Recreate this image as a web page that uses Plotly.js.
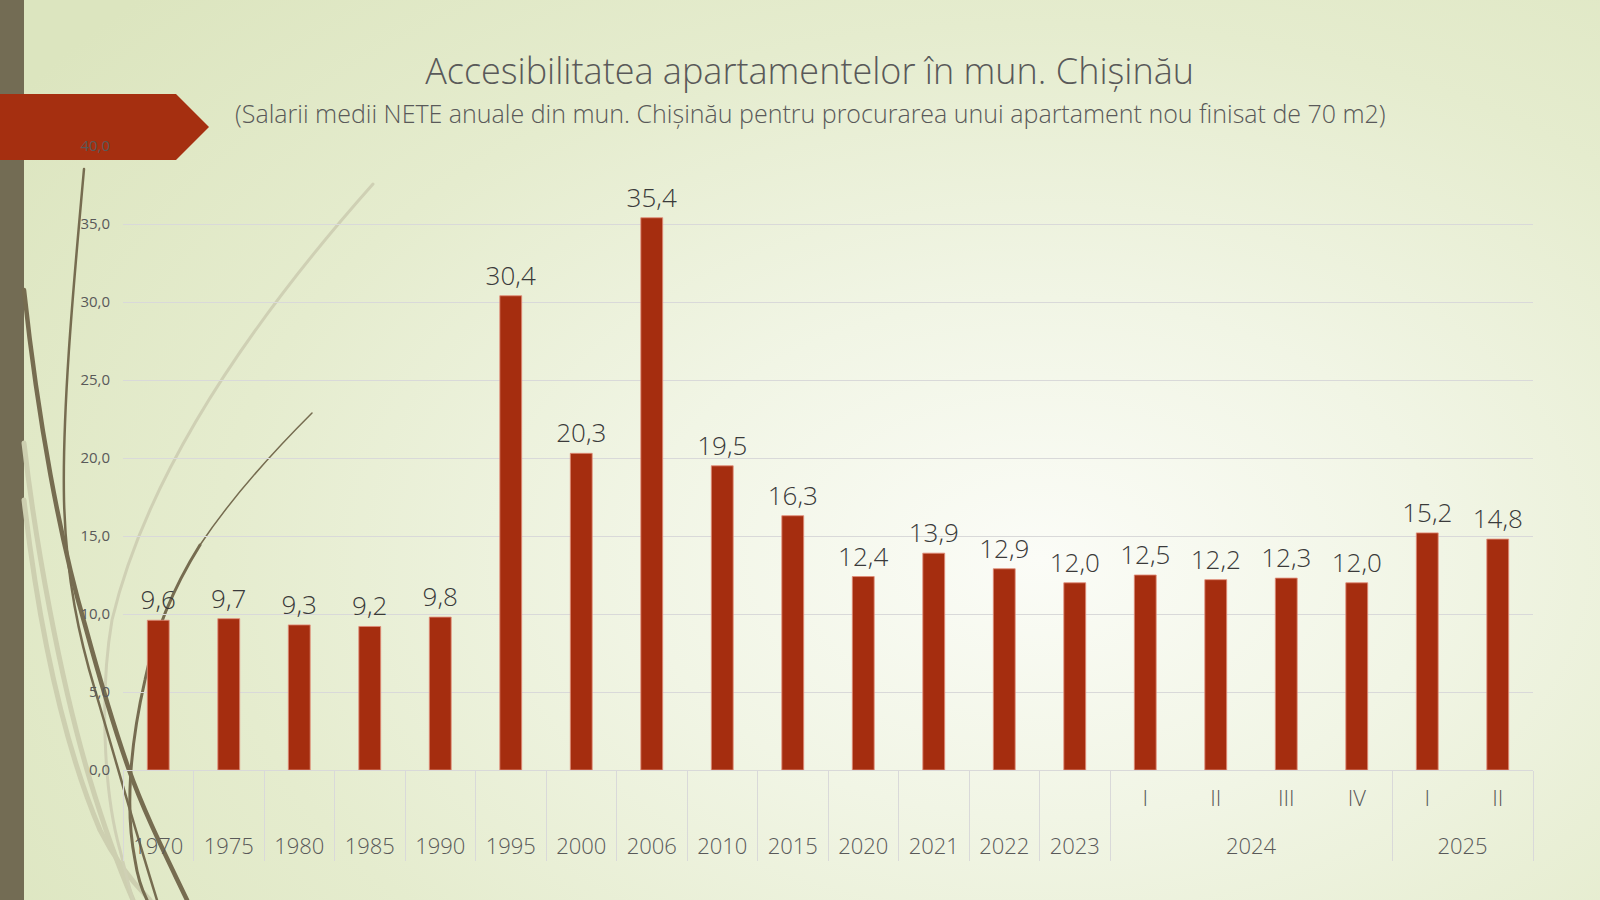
<!DOCTYPE html>
<html>
<head>
<meta charset="utf-8">
<script src="https://cdn.plot.ly/plotly-3.0.1.min.js"></script>
<style>
  html, body { margin: 0; padding: 0; width: 1600px; height: 900px; overflow: hidden; }
  #bg { position: absolute; left: 0; top: 0; width: 1600px; height: 900px;
        background: radial-gradient(ellipse 78% 90% at 65% 62%, #fbfcf7 0%, #f1f5e5 32%, #e5ecce 66%, #dce5bf 100%); }
  #deco { position: absolute; left: 0; top: 0; }
  #chart { position: absolute; left: 0; top: 0; width: 1600px; height: 900px; }
</style>
</head>
<body>
<div id="bg"></div>
<svg id="deco" width="1600" height="900" xmlns="http://www.w3.org/2000/svg">
  <rect x="0" y="0" width="24" height="900" fill="#736c54"/>
  <g fill="none" stroke-linecap="round">
    <path d="M24,443 C35,540 60,680 90,780 C105,830 120,870 133,900" stroke="#cdcfb0" stroke-width="5"/>
    <path d="M24,500 C38,620 62,740 100,830 C115,860 135,885 150,900" stroke="#cdcfb0" stroke-width="5"/>
    <path d="M373,184 C270,300 150,460 112,620 C100,690 103,790 120,850 C125,870 130,890 133,900" stroke="#cfd0b4" stroke-width="3"/>
    <path d="M84,169 C76,260 62,400 64,500 C66,580 80,640 95,690 C110,740 135,830 157,900" stroke="#766c50" stroke-width="2.5"/>
    <path d="M24,290 C38,420 60,540 85,625 C100,680 115,730 128,767 C145,815 168,860 187,900" stroke="#766c50" stroke-width="4.5"/>
    <path d="M312,413 C270,455 230,500 200,545" stroke="#766c50" stroke-width="1.5"/>
    <path d="M200,545 C175,585 155,630 145,680 C130,745 125,810 135,860 C138,880 142,890 147,900" stroke="#766c50" stroke-width="3"/>
  </g>
  <polygon points="0,94 176,94 209,127 176,160 0,160" fill="#a52f10"/>
</svg>
<div id="chart"></div>
<script>
// ---- data ----
var groupLabels = ["1970","1975","1980","1985","1990","1995","2000","2006","2010","2015","2020","2021","2022","2023","2024","2024","2024","2024","2025","2025"];
var subLabels   = ["","","","","","","","","","","","","","","I","II","III","IV","I","II"];
var values      = [9.6, 9.7, 9.3, 9.2, 9.8, 30.4, 20.3, 35.4, 19.5, 16.3, 12.4, 13.9, 12.9, 12.0, 12.5, 12.2, 12.3, 12.0, 15.2, 14.8];
var titleText    = "Accesibilitatea apartamentelor în mun. Chișinău";
var subtitleText = "(Salarii medii NETE anuale din mun. Chișinău pentru procurarea unui apartament nou finisat de 70 m2)";

var FONT = "Open Sans, sans-serif";
var NBSP = "\u00A0";

// inner-level axis labels: blank ones become a non-breaking space, and every label gets an
// empty second line so that the year row sits lower, as in the original
var innerAxisLabels = subLabels.map(function (s) {
  return (s || NBSP) + "<br><span style='font-size:6px'>" + NBSP + "</span>";
});

var trace = {
  type: "bar",
  x: [groupLabels, innerAxisLabels],
  y: values,
  marker: { color: "#a52d0f", line: { color: "rgba(225,140,120,0.85)", width: 1 } },
  texttemplate: "%{y:.1f}",
  textposition: "outside",
  constraintext: "none",
  textfont: { family: FONT, size: 26, color: "#3a3a3a", weight: 300 },
  cliponaxis: false,
  hoverinfo: "y"
};

var layout = {
  width: 1600, height: 900,
  margin: { l: 123, r: 67, t: 146, b: 130, pad: 0 },
  paper_bgcolor: "rgba(0,0,0,0)",
  plot_bgcolor: "rgba(0,0,0,0)",
  separators: ", ",
  showlegend: false,
  bargap: 0.69,
  font: { family: FONT, color: "#595959" },
  title: {
    text: titleText,
    font: { family: FONT, size: 36, color: "#595959", weight: 300 },
    x: 0.506, xanchor: "center", xref: "container",
    y: 0.9211, yanchor: "middle", yref: "container"
  },
  annotations: [{
    text: subtitleText, showarrow: false,
    xref: "paper", yref: "paper",
    x: 0.4874, y: 1.0524, xanchor: "center", yanchor: "middle",
    font: { family: FONT, size: 25, color: "#595959", weight: 300 }
  }],
  xaxis: {
    type: "multicategory",
    showgrid: false,
    showline: true, linecolor: "#d9d9d9", linewidth: 1,
    showdividers: true, dividercolor: "#d9d9d9", dividerwidth: 1,
    ticks: "", ticklabelstandoff: 9,
    tickfont: { family: FONT, size: 22, color: "#595959", weight: 300 },
    fixedrange: true
  },
  yaxis: {
    range: [0, 40], dtick: 5, tick0: 0,
    tickformat: ".1f",
    showgrid: true, gridcolor: "#d9d9d9", gridwidth: 1,
    zeroline: false, showline: false,
    ticks: "", ticklabelstandoff: 12,
    tickfont: { family: FONT, size: 15, color: "#595959", weight: 400 },
    fixedrange: true
  }
};

Plotly.newPlot("chart", [trace], layout, { displayModeBar: false, staticPlot: true });
</script>
</body>
</html>
